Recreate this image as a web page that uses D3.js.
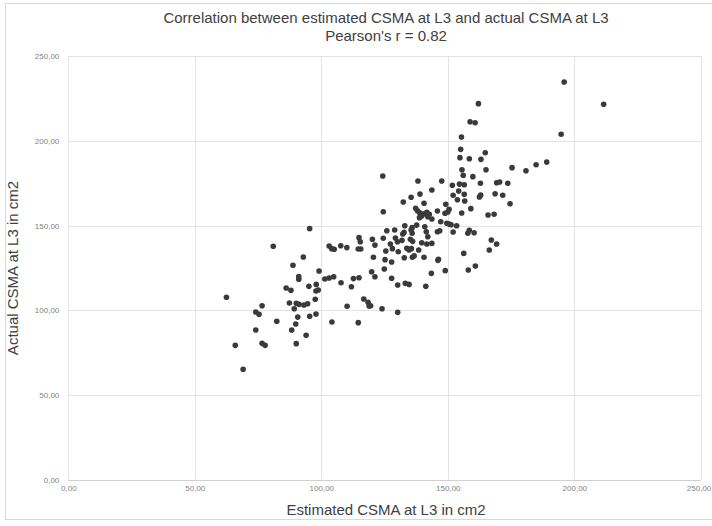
<!DOCTYPE html>
<html><head><meta charset="utf-8">
<script src="https://cdn.jsdelivr.net/npm/d3@7"></script>
<style>body{margin:0;background:#fff;} svg{display:block;}</style>
</head><body>
<svg id="c" width="712" height="526"></svg>
<script>
const estimated = [99.1,91.1,91.1,86.1,88.0,95.1,98.0,97.9,98.8,101.4,103.1,104.9,62.5,76.6,74.1,75.4,87.4,90.1,91.2,93.1,94.6,89.3,97.6,82.4,90.7,95.4,97.9,104.2,89.9,88.3,74.1,94.0,66.0,76.6,77.8,90.1,69.1,95.4,81.0,103.1,104.1,105.1,92.9,88.8,
110.2,118.5,118.9,119.5,124.0,130.2,114.6,107.7,110.1,114.9,115.4,114.6,115.6,120.2,121.2,120.6,119.9,121.2,107.8,112.7,114.9,111.9,116.8,
124.9,127.8,130.2,133.2,134.7,141.3,143.5,146.1,149.0,127.8,125.2,
124.3,138.2,147.6,143.7,139.0,135.5,132.4,140.6,137.3,138.0,149.2,150.5,150.0,148.9,124.5,138.9,139.7,140.6,141.7,142.7,142.1,143.7,138.8,145.9,147.2,137.7,135.9,133.0,140.9,149.6,150.6,125.9,129.0,132.7,132.2,135.5,135.9,141.5,145.9,146.8,124.5,129.3,130.1,131.9,135.2,136.1,142.1,143.7,139.7,141.7,127.3,128.1,125.5,133.8,134.7,135.6,138.5,130.4,132.8,136.0,136.7,140.6,146.3,
196.0,211.6,162.1,158.8,160.8,194.8,155.4,155.1,164.8,154.8,158.5,163.1,189.1,184.9,175.4,155.6,165.1,
180.9,156.1,159.9,151.8,154.6,156.5,162.9,169.3,170.5,173.7,154.3,152.1,156.5,153.8,156.7,162.5,163.0,168.7,171.7,174.6,159.1,155.5,165.9,168.3,151.3,153.5,152.1,157.9,158.5,160.4,167.2,169.3,166.4,156.3,158.1,160.9];
const actual = [123.2,119.9,118.3,113.2,111.8,114.2,115.3,111.4,112.0,118.5,119.1,119.8,107.7,102.7,99.0,97.6,104.3,104.1,103.5,103.1,103.9,100.9,106.5,93.5,96.0,96.5,97.8,93.1,91.9,88.4,88.4,85.2,79.3,80.5,79.3,80.3,65.2,148.2,137.8,138.0,136.4,136.0,131.5,126.6,
102.4,104.7,102.5,102.7,100.9,98.8,92.7,138.1,137.0,142.9,140.5,136.2,136.2,141.9,138.5,131.3,122.8,119.8,116.3,118.7,119.2,113.9,106.7,
124.4,118.9,114.9,115.9,115.3,114.2,121.8,129.5,123.4,128.5,129.9,
179.3,176.3,176.3,171.0,168.6,166.7,163.9,163.2,160.2,158.8,162.6,159.6,158.0,157.3,158.2,157.6,155.7,157.0,157.8,156.7,155.2,153.9,154.7,158.6,152.3,150.3,148.8,149.9,149.3,151.4,150.9,147.0,147.4,146.0,145.0,147.4,145.5,146.4,146.4,147.0,142.5,142.7,140.5,141.3,141.9,140.7,143.4,139.5,139.9,139.1,139.1,136.4,135.0,136.6,135.6,136.4,135.6,134.6,131.0,131.3,132.1,131.3,130.1,
234.8,221.6,222.0,211.3,210.7,203.9,202.3,195.0,193.0,190.1,189.5,189.1,187.5,185.9,184.2,183.0,183.0,
182.4,179.7,178.9,173.8,174.5,174.1,175.0,175.3,175.7,175.0,170.4,167.9,168.5,165.3,164.5,166.9,168.1,168.8,167.9,162.9,160.0,157.4,156.3,156.7,150.5,149.9,146.2,145.5,147.2,145.8,141.5,139.1,135.6,133.6,123.8,126.1];
const xTicks = [0,50,100,150,200,250];
const yTicks = [0,50,100,150,200,250];
const titleLines = ["Correlation between estimated CSMA at L3 and actual CSMA at L3","Pearson's r = 0.82"];
const xTitle = "Estimated CSMA at L3 in cm2";
const yTitle = "Actual CSMA at L3 in cm2";

const svg = d3.select("#c");
const font = "'Liberation Sans', Arial, sans-serif";
// chart border
svg.append("rect").attr("x",5.5).attr("y",3.5).attr("width",712).attr("height",516)
  .attr("fill","none").attr("stroke","#d9d9d9");

const x = d3.scaleLinear().domain([0,250]).range([68.3,700.8]);
const y = d3.scaleLinear().domain([0,250]).range([479.7,56.2]);
const fmt = d => d3.format(".2f")(d).replace(".", ",");

// gridlines
svg.append("g").selectAll("line").data(xTicks).join("line")
  .attr("x1",d=>Math.round(x(d))+0.5).attr("x2",d=>Math.round(x(d))+0.5)
  .attr("y1",y(250)).attr("y2",y(0)).attr("stroke","#e3e3e3");
svg.append("g").selectAll("line").data(yTicks).join("line")
  .attr("y1",d=>Math.round(y(d))+0.5).attr("y2",d=>Math.round(y(d))+0.5)
  .attr("x1",x(0)).attr("x2",x(250)).attr("stroke",d=>d===0?"#d0d0d0":"#e3e3e3");

// axes labels via d3 axis
const xAxis = svg.append("g").attr("transform",`translate(0,${y(0)})`)
  .call(d3.axisBottom(x).tickValues(xTicks).tickFormat(fmt).tickSize(0).tickPadding(6));
const yAxis = svg.append("g").attr("transform",`translate(${x(0)},0)`)
  .call(d3.axisLeft(y).tickValues(yTicks).tickFormat(fmt).tickSize(0).tickPadding(9));
[xAxis,yAxis].forEach(a=>{
  a.select(".domain").remove();
  a.selectAll("text").attr("fill","#7f7f7f").style("font-family",font).style("font-size","8px");
});
// keep the last x label inside the window
xAxis.selectAll(".tick").filter(d=>d===250).select("text").attr("text-anchor","end").attr("x",10);

// points
svg.append("g").selectAll("circle").data(estimated.map((v,i)=>[v,actual[i]])).join("circle")
  .attr("cx",d=>x(d[0])).attr("cy",d=>y(d[1])).attr("r",2.8).attr("fill","#3a3a3a");

// titles
svg.append("g").selectAll("text").data(titleLines).join("text")
  .attr("x",386).attr("y",(d,i)=>23+i*18).attr("text-anchor","middle")
  .style("font-family",font).style("font-size","15px").attr("fill","#404040").text(d=>d);
svg.append("text").attr("x",386).attr("y",515).attr("text-anchor","middle")
  .style("font-family",font).style("font-size","15px").attr("fill","#404040").text(xTitle);
svg.append("text").attr("transform","translate(18,268) rotate(-90)").attr("text-anchor","middle")
  .style("font-family",font).style("font-size","15px").attr("fill","#404040").text(yTitle);
</script>
</body></html>
